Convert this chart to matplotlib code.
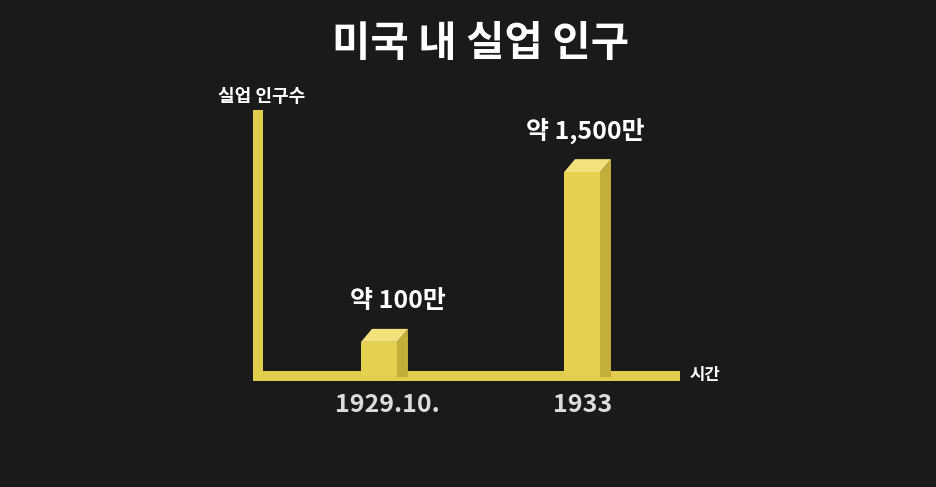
import numpy as np
import matplotlib
matplotlib.use('Agg')
import matplotlib.pyplot as plt
from matplotlib.patches import Polygon
from matplotlib.transforms import IdentityTransform, ScaledTranslation

plt.rcParams['font.family'] = ['Noto Sans CJK KR', 'DejaVu Sans']

# ---- data ----
title = '미국 내 실업 인구'
categories = ['1929.10.', '1933']
unemployed = [100, 1500]          # 단위: 만 명
value_labels = ['약 100만', '약 1,500만']
ylabel = '실업 인구수'
xlabel = '시간'

# ---- style ----
BG = '#1a1a1a'
FRONT = '#E6D04F'
TOPC = '#F3E27C'
SIDE = '#C4AE3A'
AXC = '#E2CC4C'
label_dx = [19, 3]    # px offsets of value labels
tick_dx = [8, 1]      # px offsets of tick labels

W, H = 936, 487
fig = plt.figure(figsize=(W / 100, H / 100), dpi=100, facecolor=BG)
left, right, top, bottom = 258, 675, 115, 376
ax = fig.add_axes([left / W, (H - bottom) / H, (right - left) / W, (bottom - top) / H])
ax.set_facecolor(BG)

p = 0.66
ax.set_yscale('function', functions=(lambda v: np.sign(v) * np.abs(v) ** p,
                                     lambda v: np.sign(v) * np.abs(v) ** (1 / p)))
ax.set_ylim(0, 2181)
ax.set_xlim(-0.596, 1.458)

x = np.arange(len(categories))
bw = 0.177
bars = ax.bar(x, unemployed, width=bw, color=FRONT, zorder=3, linewidth=0)

dx, dy = 11, 13
for b in bars:
    x0, x1 = b.get_x(), b.get_x() + b.get_width()
    h = b.get_height()
    (px0, py0), (px1, ph) = ax.transData.transform([(x0, 0), (x1, h)])
    topf = Polygon([(px0, ph), (px1, ph), (px1 + dx, ph + dy), (px0 + dx, ph + dy)],
                   closed=True, transform=IdentityTransform(), fc=TOPC, ec='none',
                   zorder=3, clip_on=False)
    side = Polygon([(px1, py0 - 1), (px1, ph), (px1 + dx, ph + dy), (px1 + dx, py0 - 1)],
                   closed=True, transform=IdentityTransform(), fc=SIDE, ec='none',
                   zorder=3, clip_on=False)
    ax.add_patch(side)
    ax.add_patch(topf)

for xi, v, lbl, ldx in zip(x, unemployed, value_labels, label_dx):
    ax.annotate(lbl, (xi, v), xytext=(ldx * 0.72, 41 * 0.72), textcoords='offset points',
                ha='center', va='center', fontsize=18, fontweight='bold', color='white')

for s in ['top', 'right']:
    ax.spines[s].set_visible(False)
for s in ['left', 'bottom']:
    ax.spines[s].set_color(AXC)
    ax.spines[s].set_linewidth(7.2)
    ax.spines[s].set_capstyle('projecting')
    ax.spines[s].set_zorder(2.5)

ax.set_xticks(x, categories)
ax.set_yticks([])
ax.tick_params(axis='x', length=0, pad=12, labelsize=18, labelcolor='#DCDCDC')
for t, tdx in zip(ax.get_xticklabels(), tick_dx):
    t.set_fontweight('bold')
    t.set_transform(t.get_transform() + ScaledTranslation(tdx / 100, 0, fig.dpi_scale_trans))

fig.text(481 / W, 1 - 44 / H, title, ha='center', va='center', fontsize=30,
         fontweight='bold', color='white')
fig.text(262 / W, 1 - 96 / H, ylabel, ha='center', va='center', fontsize=13,
         fontweight='bold', color='white')
fig.text(705 / W, 1 - 375 / H, xlabel, ha='center', va='center', fontsize=12,
         fontweight='bold', color='white')

fig.savefig('out.png', dpi=100, facecolor=BG)
